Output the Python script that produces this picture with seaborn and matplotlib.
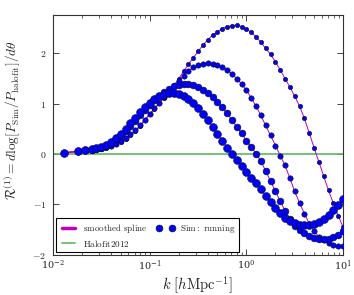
import numpy as np
import pandas as pd
import seaborn as sns
import matplotlib
matplotlib.use('Agg')
import matplotlib.pyplot as plt
from matplotlib.lines import Line2D
from matplotlib.ticker import FuncFormatter, LogLocator

# k values of the simulation bins [h/Mpc]
k = [0.013, 0.018, 0.0215, 0.025, 0.028,
     0.0316, 0.0355, 0.0398, 0.0447, 0.0501, 0.0562, 0.0631, 0.0708, 0.0794, 0.0891,
     0.1, 0.112, 0.126, 0.141, 0.158, 0.178, 0.2, 0.224, 0.251, 0.282,
     0.316, 0.355, 0.398, 0.447, 0.501, 0.562, 0.631, 0.708, 0.794, 0.891,
     1.0, 1.12, 1.26, 1.41, 1.58, 1.78, 2.0, 2.24, 2.51, 2.82,
     3.16, 3.55, 3.98, 4.47, 5.01, 5.62, 6.31, 7.08, 7.94, 8.91, 10.0]

# response curves (four runs)
resp_a = [0.02, 0.05, 0.07, 0.08, 0.09,
          0.11, 0.13, 0.16, 0.20, 0.25, 0.30, 0.37, 0.45, 0.55, 0.67,
          0.79, 0.90, 1.01, 1.12, 1.24, 1.36, 1.50, 1.64, 1.78, 1.91,
          2.04, 2.16, 2.27, 2.36, 2.43, 2.49, 2.53, 2.55, 2.56, 2.53,
          2.48, 2.42, 2.33, 2.22, 2.10, 1.98, 1.83, 1.67, 1.50, 1.33,
          1.15, 0.95, 0.71, 0.42, 0.13, -0.15, -0.44, -0.72, -0.98, -1.22, -1.45]
resp_b = [0.02, 0.05, 0.07, 0.08, 0.10,
          0.12, 0.14, 0.17, 0.21, 0.26, 0.32, 0.39, 0.47, 0.57, 0.68,
          0.80, 0.91, 1.02, 1.13, 1.24, 1.35, 1.46, 1.56, 1.65, 1.72,
          1.76, 1.79, 1.80, 1.79, 1.77, 1.73, 1.67, 1.59, 1.50, 1.39,
          1.27, 1.12, 0.95, 0.77, 0.57, 0.37, 0.17, -0.03, -0.22, -0.48,
          -0.74, -0.97, -1.18, -1.38, -1.53, -1.64, -1.71, -1.76, -1.80, -1.82, -1.83]
resp_c = [0.03, 0.06, 0.08, 0.09, 0.11,
          0.13, 0.17, 0.22, 0.29, 0.37, 0.46, 0.56, 0.66, 0.77, 0.88,
          0.98, 1.07, 1.16, 1.24, 1.30, 1.35, 1.38, 1.40, 1.39, 1.37,
          1.33, 1.28, 1.21, 1.13, 1.04, 0.93, 0.81, 0.68, 0.54, 0.41,
          0.27, 0.14, 0.01, -0.14, -0.33, -0.54, -0.74, -0.94, -1.12, -1.29,
          -1.42, -1.51, -1.57, -1.62, -1.66, -1.68, -1.69, -1.68, -1.65, -1.60, -1.53]
resp_d = [0.03, 0.06, 0.08, 0.10, 0.12,
          0.14, 0.18, 0.24, 0.31, 0.40, 0.50, 0.61, 0.72, 0.83, 0.93,
          1.02, 1.09, 1.15, 1.19, 1.22, 1.22, 1.20, 1.16, 1.10, 1.02,
          0.92, 0.80, 0.67, 0.54, 0.40, 0.27, 0.13, 0.00, -0.12, -0.24,
          -0.36, -0.48, -0.58, -0.70, -0.83, -0.95, -1.06, -1.17, -1.26, -1.33,
          -1.37, -1.40, -1.41, -1.40, -1.38, -1.34, -1.28, -1.20, -1.11, -1.01, -0.90]

curves = [resp_a, resp_b, resp_c, resp_d]
marker_area = [10, 15, 24, 32]

y_ticks = [-2, -1, 0, 1, 2]

sns.set_style('ticks')
plt.rcParams['font.family'] = ['DejaVu Serif']
plt.rcParams['mathtext.fontset'] = 'cm'
plt.rcParams['xtick.direction'] = 'in'
plt.rcParams['ytick.direction'] = 'in'
plt.rcParams['xtick.top'] = True
plt.rcParams['ytick.right'] = True

fig = plt.figure(figsize=(3.54, 2.95), dpi=100)
ax = fig.add_axes([0.150, 0.136, 0.819, 0.813])

ax.axhline(0, color='#5cb85c', lw=1.2, zorder=1)

for vals, s in zip(curves, marker_area):
    df = pd.DataFrame({'k': k, 'R': vals})
    sns.lineplot(data=df, x='k', y='R', ax=ax, color='m', lw=0.7,
                 zorder=2, sort=True)
    sns.scatterplot(data=df, x='k', y='R', ax=ax, s=s, color='b',
                    edgecolor='#111111', linewidth=0.4, zorder=3)

ax.set_xscale('log')
ax.set_xlim(1e-2, 1e1)
ax.set_ylim(-2, 2.76)
ax.set_yticks(y_ticks)
ax.yaxis.set_major_formatter(FuncFormatter(lambda v, p: r'$%d$' % v))
ax.xaxis.set_minor_locator(LogLocator(subs=np.arange(2, 10)))
ax.tick_params(which='major', length=4, width=0.6, labelsize=7)
ax.tick_params(axis='y', pad=5)
ax.tick_params(axis='x', pad=2.5)
ax.tick_params(which='minor', length=2, width=0.5)
for sp in ax.spines.values():
    sp.set_linewidth(0.8)
    sp.set_color('#333333')

ax.set_xlabel(r'$k\ [h\mathrm{Mpc}^{-1}]$', fontsize=10.5, labelpad=1)
ax.set_ylabel(r'$\mathcal{R}^{(1)}=d\log[P_{\rm Sim}/P_{\rm halofit}]/d\theta$',
              fontsize=9.6)
ax.yaxis.set_label_coords(-0.105, 0.56)

handles = [Line2D([], [], color='m', lw=2.5),
           Line2D([], [], color='#5cb85c', lw=1.2),
           Line2D([], [], ls='none', marker='o', color='b', mec='#111111',
                  mew=0.4, ms=5)]
labels = [r'$\mathrm{smoothed\ spline}$', r'$\mathrm{Halofit2012}$',
          r'$\mathrm{Sim{:}\ running}$']
leg = ax.legend(handles, labels, loc='lower left', ncol=2, fontsize=6.5,
                numpoints=2, fancybox=False, framealpha=1, edgecolor='k',
                borderaxespad=0.3, handlelength=2.0, columnspacing=1.0,
                borderpad=0.4, labelspacing=0.3, handletextpad=0.6)
leg.get_frame().set_linewidth(0.8)

fig.savefig('out.png', dpi=100)
